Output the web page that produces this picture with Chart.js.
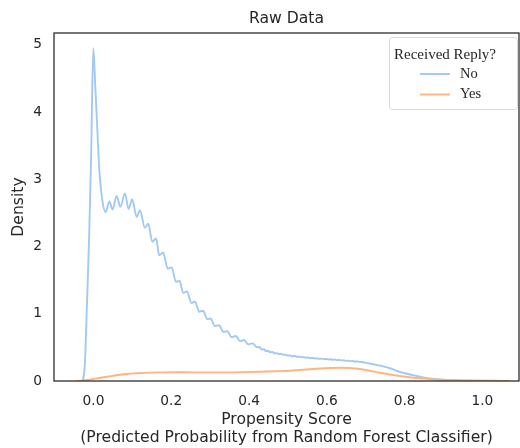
<!DOCTYPE html>
<html>
<head>
<meta charset="utf-8">
<title>Raw Data</title>
<script src="https://cdn.jsdelivr.net/npm/chart.js@4.4.1/dist/chart.umd.min.js"></script>
<style>
  html, body { margin: 0; padding: 0; background: #fff; }
</style>
</head>
<body>
<canvas id="kdeChart" width="520" height="448"></canvas>
<script>
// Density estimate of propensity score, one curve per reply outcome
const noX = [-0.030, -0.026, -0.022, -0.017, -0.011, -0.006, -0.0005, 0.0045, 0.0106, 0.0148,
  0.022, 0.031, 0.041, 0.049, 0.0596, 0.069, 0.081, 0.090, 0.0995, 0.111,
  0.1195, 0.132, 0.141, 0.151, 0.161, 0.169, 0.179, 0.191, 0.201, 0.212,
  0.221, 0.231, 0.240, 0.252, 0.261, 0.272, 0.282, 0.2925, 0.301, 0.312,
  0.323, 0.334, 0.344, 0.355, 0.366, 0.377, 0.387, 0.398, 0.409, 0.421,
  0.427, 0.432, 0.438, 0.443, 0.449, 0.454, 0.460, 0.466, 0.471, 0.477,
  0.483, 0.489, 0.494, 0.500, 0.506, 0.512, 0.517, 0.523, 0.529, 0.535,
  0.540, 0.546, 0.552, 0.558, 0.563, 0.569, 0.575, 0.581, 0.586, 0.592,
  0.598, 0.604, 0.609, 0.615, 0.621, 0.627, 0.632, 0.638, 0.644, 0.650,
  0.655, 0.661, 0.667, 0.673, 0.678, 0.684, 0.690, 0.696, 0.701, 0.707,
  0.713, 0.719, 0.725, 0.730, 0.737, 0.750, 0.762, 0.775, 0.788, 0.801,
  0.814, 0.827, 0.839, 0.852, 0.865, 0.878, 0.891, 0.910, 0.930, 0.960,
  0.994, 1.030, 1.070];
const noY = [0, 0.045, 0.27, 1.1, 2.17, 3.37, 4.95, 4.4, 3.65, 3.16,
  2.72, 2.51, 2.67, 2.55, 2.75, 2.59, 2.79, 2.56, 2.70, 2.44,
  2.54, 2.28, 2.34, 2.07, 2.12, 1.87, 1.91, 1.67, 1.69, 1.475,
  1.49, 1.31, 1.33, 1.16, 1.18, 1.03, 1.045, 0.92, 0.93, 0.817,
  0.83, 0.73, 0.74, 0.65, 0.67, 0.594, 0.61, 0.545, 0.56, 0.50,
  0.505, 0.468, 0.472, 0.445, 0.449, 0.428, 0.431, 0.412, 0.415, 0.400,
  0.403, 0.388, 0.391, 0.378, 0.381, 0.368, 0.371, 0.360, 0.363, 0.352,
  0.355, 0.346, 0.349, 0.340, 0.343, 0.334, 0.337, 0.329, 0.332, 0.325,
  0.328, 0.320, 0.323, 0.316, 0.319, 0.311, 0.314, 0.306, 0.309, 0.300,
  0.303, 0.295, 0.297, 0.289, 0.290, 0.285, 0.283, 0.275, 0.272, 0.262,
  0.258, 0.248, 0.244, 0.235, 0.228, 0.210, 0.190, 0.162, 0.134, 0.115,
  0.097, 0.080, 0.064, 0.050, 0.038, 0.030, 0.023, 0.016, 0.012, 0.009,
  0.006, 0.003, 0.001];

const yesX = [-0.046, -0.030, -0.016, 0.000, 0.018, 0.035, 0.052, 0.069, 0.086, 0.104,
  0.121, 0.146, 0.172, 0.214, 0.256, 0.300, 0.343, 0.385, 0.428, 0.467,
  0.505, 0.530, 0.556, 0.582, 0.608, 0.633, 0.659, 0.685, 0.710, 0.736,
  0.762, 0.787, 0.813, 0.839, 0.870, 0.905, 0.950, 1.000, 1.070];
const yesY = [0, 0.006, 0.015, 0.030, 0.049, 0.064, 0.079, 0.093, 0.104, 0.113,
  0.119, 0.125, 0.129, 0.130, 0.129, 0.129, 0.129, 0.132, 0.138, 0.145,
  0.153, 0.163, 0.174, 0.185, 0.193, 0.198, 0.193, 0.179, 0.153, 0.123,
  0.097, 0.075, 0.055, 0.040, 0.025, 0.014, 0.006, 0.003, 0.001];

const xTicks = [0, 0.2, 0.4, 0.6, 0.8, 1.0];
const yTicks = [0, 1, 2, 3, 4, 5];
const chartTitle = 'Raw Data';
const legendTitle = 'Received Reply?';

const ink = '#262626';
const sans = 'DejaVu Sans';
const serif = 'Liberation Serif';

const toPoints = (xs, ys) => xs.map((x, i) => ({ x: x, y: ys[i] }));

// title centred over the plot area rather than the whole canvas
const areaTitle = {
  id: 'areaTitle',
  afterDraw(chart, args, opts) {
    const { ctx, chartArea: a } = chart;
    ctx.save();
    ctx.fillStyle = ink;
    ctx.font = '15.6px "' + sans + '"';
    ctx.textAlign = 'center';
    ctx.textBaseline = 'middle';
    ctx.fillText(opts.text, (a.left + a.right) / 2, 18.5);
    ctx.restore();
  }
};

// closed box around the plot area, drawn over the curves like matplotlib spines
const frameBox = {
  id: 'frameBox',
  afterDatasetsDraw(chart) {
    const { ctx, chartArea: a } = chart;
    ctx.save();
    ctx.strokeStyle = ink;
    ctx.lineWidth = 1.25;
    ctx.strokeRect(a.left, a.top, a.right - a.left, a.bottom - a.top);
    ctx.restore();
  }
};

// legend box in the upper right corner of the plot
const insideLegend = {
  id: 'insideLegend',
  afterDraw(chart, args, opts) {
    const { ctx, chartArea: a } = chart;
    const x0 = a.right - 130, y0 = a.top + 4, w = 128, h = 72;
    ctx.save();
    ctx.fillStyle = 'rgba(255,255,255,0.85)';
    ctx.strokeStyle = '#d9d9d9';
    ctx.lineWidth = 1;
    ctx.beginPath();
    ctx.roundRect(x0 + 0.5, y0 + 0.5, w, h, 3);
    ctx.fill();
    ctx.stroke();

    ctx.fillStyle = ink;
    ctx.textBaseline = 'middle';
    ctx.textAlign = 'center';
    ctx.font = '15px "' + serif + '"';
    ctx.fillText(opts.title, x0 + 56, y0 + 18);

    ctx.textAlign = 'left';
    ctx.font = '14.5px "' + serif + '"';
    chart.data.datasets.forEach((ds, i) => {
      const ty = y0 + 37 + i * 20.5;
      ctx.strokeStyle = ds.borderColor;
      ctx.lineWidth = 1.9;
      ctx.beginPath();
      ctx.moveTo(x0 + 31, ty);
      ctx.lineTo(x0 + 61, ty);
      ctx.stroke();
      ctx.fillText(ds.label, x0 + 71, ty);
    });
    ctx.restore();
  }
};

new Chart(document.getElementById('kdeChart'), {
  type: 'line',
  data: {
    datasets: [
      {
        label: 'No',
        data: toPoints(noX, noY),
        borderColor: '#a1c9f4',
        borderWidth: 1.9,
        pointRadius: 0,
        fill: false,
        cubicInterpolationMode: 'monotone',
        order: 1
      },
      {
        label: 'Yes',
        data: toPoints(yesX, yesY),
        borderColor: '#ffb482',
        borderWidth: 1.9,
        pointRadius: 0,
        fill: false,
        cubicInterpolationMode: 'monotone',
        order: 0
      }
    ]
  },
  options: {
    responsive: false,
    animation: false,
    devicePixelRatio: 1,
    layout: { padding: { left: 0, right: 1, top: 33, bottom: 0 } },
    plugins: {
      legend: { display: false },
      tooltip: { enabled: false },
      title: { display: false },
      areaTitle: { text: chartTitle },
      insideLegend: { title: legendTitle }
    },
    scales: {
      x: {
        type: 'linear',
        min: -0.1015,
        max: 1.094,
        grid: { display: false, drawTicks: false },
        border: { display: false },
        ticks: {
          color: ink,
          padding: 12,
          font: { family: sans, size: 13.75 },
          callback: v => v.toFixed(1)
        },
        title: {
          display: true,
          text: ['Propensity Score', '(Predicted Probability from Random Forest Classifier)'],
          color: ink,
          font: { family: sans, size: 15.6, lineHeight: 1.15 },
          padding: { top: 0, bottom: 1.5 }
        },
        afterBuildTicks: s => { s.ticks = xTicks.map(v => ({ value: v })); },
        afterFit: s => { s.height = 67; }
      },
      y: {
        type: 'linear',
        min: 0,
        max: 5.175,
        grid: { display: false, drawTicks: false },
        border: { display: false },
        ticks: {
          color: ink,
          padding: 12,
          font: { family: sans, size: 13.75 },
          callback: v => String(v)
        },
        title: {
          display: true,
          text: 'Density',
          color: ink,
          font: { family: sans, size: 15.6, lineHeight: 1.2 },
          padding: { top: 10, bottom: 0 }
        },
        afterBuildTicks: s => { s.ticks = yTicks.map(v => ({ value: v })); },
        afterFit: s => { s.width = 54; }
      }
    }
  },
  plugins: [areaTitle, frameBox, insideLegend]
});
</script>
</body>
</html>
